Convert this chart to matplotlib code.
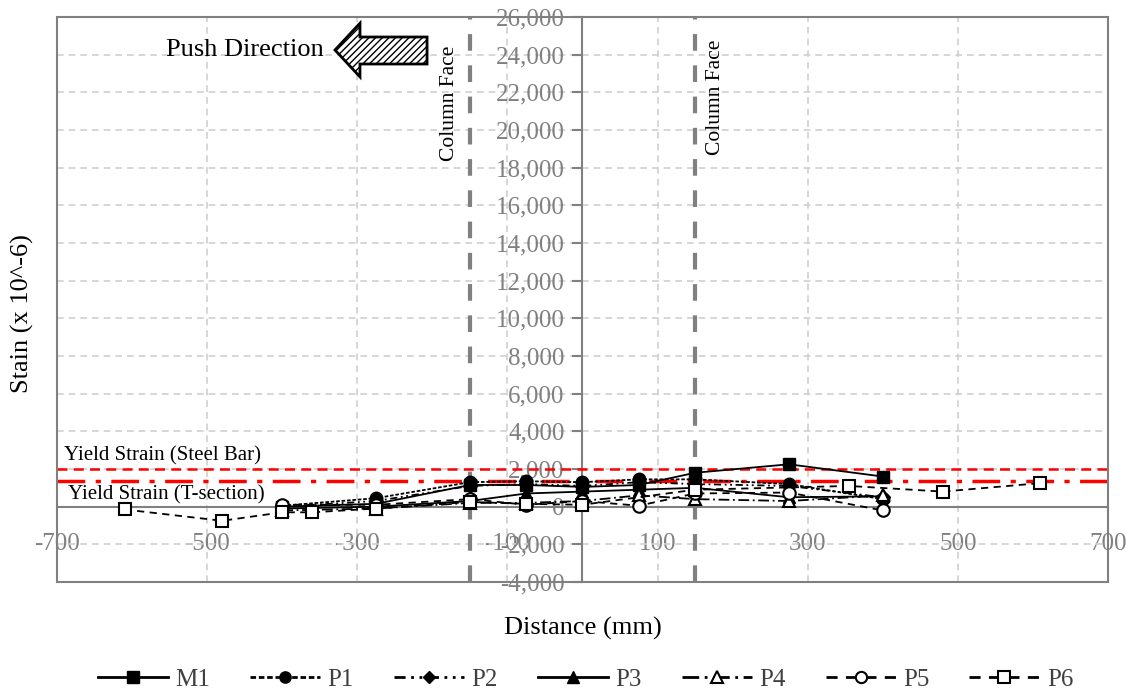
import matplotlib
matplotlib.use("Agg")
import matplotlib.pyplot as plt
from matplotlib.patches import Polygon, Rectangle
from matplotlib.ticker import FuncFormatter

plt.rcParams['font.family'] = ['Liberation Serif', 'DejaVu Serif']
plt.rcParams['axes.unicode_minus'] = False
plt.rcParams['hatch.color'] = '#707070'

# gauge positions (mm) and strains (x 10^-6)
dist = [-400, -275, -150, -75, 0, 75, 150, 275, 400]
m1 = [0, 150, 1150, 1150, 1050, 1150, 1800, 2250, 1600]
p1 = [50, 450, 1300, 1350, 1300, 1450, 1450, 1200, 400]
p2 = [0, 300, 1100, 1200, 1100, 1300, 1200, 1100, 500]
p3 = [-100, 0, 300, 700, 800, 900, 1000, 500, 550]
p4 = [-200, -100, 200, 200, 300, 600, 400, 300, 600]
p5 = [100, 100, 400, 100, 300, 50, 700, 750, -200]

dist_p6 = [-610, -480, -400, -360, -275, -150, -75, 0, 150, 355, 480, 610]
p6 = [-150, -750, -300, -300, -100, 250, 150, 100, 900, 1100, 800, 1250]

yield_bar = 2000
yield_tsec = 1350
col_face = [-150, 150]

x_ticks = list(range(-700, 701, 200))
y_ticks = list(range(-4000, 26001, 2000))

grey = '#808080'

fig = plt.figure(figsize=(11.26, 6.97), dpi=100)
ax = fig.add_axes([0.0506, 0.165, 0.9334, 0.8106])

ax.set_xlim(-700, 700)
ax.set_ylim(-4000, 26000)
ax.set_xticks(x_ticks)
ax.set_yticks(y_ticks)
ax.yaxis.set_major_formatter(FuncFormatter(lambda v, p: f"{int(v):,}"))
ax.grid(True, color='#d0d0d0', linestyle=(0, (4, 3)), linewidth=1.2)
ax.set_axisbelow(True)

for s in ['top', 'right']:
    ax.spines[s].set_visible(False)
ax.spines['left'].set_position(('data', 0))
ax.spines['bottom'].set_position(('data', 0))
ax.spines['left'].set_color(grey)
ax.spines['bottom'].set_color(grey)
ax.spines['left'].set_linewidth(1.5)
ax.spines['bottom'].set_linewidth(1.5)
ax.add_patch(Rectangle((0, 0), 1, 1, transform=ax.transAxes, fill=False,
                       edgecolor=grey, linewidth=1.5, clip_on=False, zorder=5))

ax.tick_params(axis='y', direction='out', length=7, color=grey, width=1.5,
               labelsize=18, labelcolor=grey, pad=6)
ax.tick_params(axis='x', length=0, labelsize=18, labelcolor=grey, pad=19)

# reference lines
ax.axhline(yield_bar, color='red', linestyle=(0, (4, 2.5)), linewidth=1.8, zorder=4)
ax.axhline(yield_tsec, color='red', linestyle=(0, (8, 3, 1.5, 3)), linewidth=2.5, zorder=4)
for xc in col_face:
    ax.axvline(xc, color=grey, linestyle=(0, (4, 3.5)), linewidth=3, zorder=1)

ax.text(-691, 2450, 'Yield Strain (Steel Bar)', fontsize=15, va='baseline', ha='left')
ax.text(-685, 380, 'Yield Strain (T-section)', fontsize=15, va='baseline', ha='left')
ax.text(-177, 24500, 'Column Face', rotation=90, fontsize=15.5, ha='center', va='top')
ax.text(177, 24800, 'Column Face', rotation=90, fontsize=15.5, ha='center', va='top')

# push direction arrow
arrow = Polygon([(0.2645, 0.9416), (0.2883, 0.989), (0.2883, 0.9646), (0.3521, 0.9646),
                 (0.3521, 0.9168), (0.2883, 0.9168), (0.2883, 0.894)],
                closed=True, transform=ax.transAxes, facecolor='white',
                edgecolor='black', linewidth=2, hatch='/////', clip_on=False, zorder=6)
ax.add_patch(arrow)
ax.text(0.254, 0.9416, 'Push Direction', transform=ax.transAxes, fontsize=19,
        ha='right', va='center')

ms = 9
kw = dict(color='black', linewidth=1.3, markersize=ms, clip_on=False)
ax.plot(dist, m1, linestyle='-', marker='s', label='M1', zorder=10, **kw)
ax.plot(dist, p1, linestyle=(0, (2, 1)), marker='o', label='P1', zorder=10, **kw)
ax.plot(dist, p2, linestyle=(0, (4, 2, 1, 2, 1, 2)), marker='D', label='P2', zorder=10,
        color='black', linewidth=1.3, markersize=ms - 2, clip_on=False)
ax.plot(dist, p3, linestyle='-', marker='^', label='P3', zorder=10, **kw)
ax.plot(dist, p4, linestyle=(0, (6, 2, 1, 2)), marker='^', markerfacecolor='white',
        markeredgewidth=1.5, label='P4', zorder=10, **kw)
ax.plot(dist, p5, linestyle=(0, (4, 3)), marker='o', markerfacecolor='white',
        markeredgewidth=1.5, label='P5', zorder=10, **kw)
ax.plot(dist_p6, p6, linestyle=(0, (4, 3)), marker='s', markerfacecolor='white',
        markeredgewidth=1.5, label='P6', zorder=10, **kw)

fig.text(0.518, 0.099, 'Distance (mm)', fontsize=19, ha='center', va='center')
fig.text(0.02, 0.55, 'Stain (x 10^-6)', fontsize=19, ha='center', va='center', rotation=90)

leg = fig.legend(loc='center', bbox_to_anchor=(0.52, 0.025), ncol=7, frameon=False,
                 fontsize=18, handlelength=2.8, columnspacing=1.6, handletextpad=0.3,
                 markerscale=0.9)
for t in leg.get_texts():
    t.set_color('#404040')
for h in leg.get_lines():
    h.set_linewidth(2)

fig.savefig('out.png', dpi=100)
